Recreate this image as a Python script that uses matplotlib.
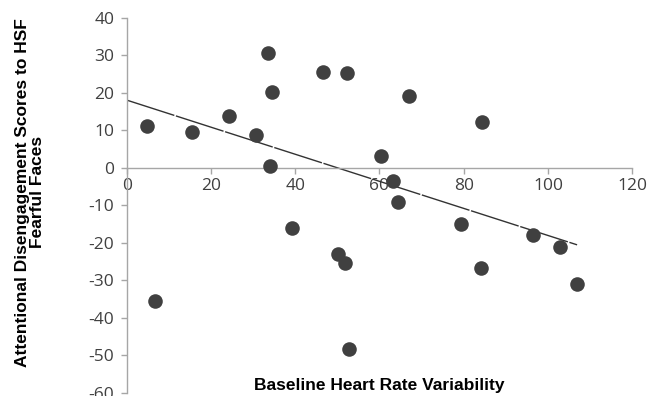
import matplotlib.pyplot as plt
import numpy as np

plt.rcParams['axes.unicode_minus'] = False

# baseline HRV vs disengagement scores
hrv = [4.7, 15.4, 24.2, 30.6, 33.6, 34.6, 34.1, 46.7, 52.4, 60.4, 67.1, 84.4,
       63.3, 64.5, 39.3, 50.2, 51.9, 6.6, 52.8, 79.4, 84.1, 96.4, 102.8, 106.9]
scores = [11.2, 9.6, 13.9, 8.8, 30.7, 20.3, 0.5, 25.6, 25.3, 3.2, 19.2, 12.3,
          -3.5, -9.0, -16.0, -22.9, -25.3, -35.5, -48.3, -14.9, -26.7, -17.9, -21.1, -30.9]
# trendline as drawn in the figure
trend_intercept = 18.1
trend_slope = -0.361
x_ticks = [0, 20, 40, 60, 80, 100, 120]
y_ticks = [-60, -50, -40, -30, -20, -10, 0, 10, 20, 30, 40]

fig = plt.figure(figsize=(6.6, 3.96), dpi=100)
ax = fig.add_axes([0.192, 0.0076, 0.766, 0.947])

ax.scatter(hrv, scores, s=110, color='#404040', zorder=3, linewidths=0)

xs = np.array([0, max(hrv)])
ax.plot(xs, trend_intercept + trend_slope * xs, color='#333333', lw=1.0,
        dashes=(36, 1.2), zorder=2)

ax.set_xlim(0, 120)
ax.set_ylim(-60, 40)
ax.set_xticks(x_ticks)
ax.set_yticks(y_ticks)

ax.spines['top'].set_visible(False)
ax.spines['right'].set_visible(False)
ax.spines['bottom'].set_position(('data', 0))
for s in ['left', 'bottom']:
    ax.spines[s].set_color('#a6a6a6')
    ax.spines[s].set_linewidth(1.0)

ax.tick_params(axis='both', colors='#a6a6a6', length=4, width=1.0,
               labelcolor='#404040', labelsize=12.5)
ax.tick_params(axis='y', pad=5)
ax.tick_params(axis='x', pad=3)
for lab in ax.get_xticklabels() + ax.get_yticklabels():
    lab.set_family('Open Sans')

ax.set_xlabel('Baseline Heart Rate Variability', fontsize=12.5, fontweight='bold',
              family='Liberation Sans', color='black')
ax.xaxis.set_label_coords(0.5, 0.008)
ax.xaxis.label.set_va('baseline')
ax.set_ylabel('Attentional Disengagement Scores to HSF\nFearful Faces', fontsize=12.5,
              fontweight='bold', family='Liberation Sans', color='black',
              linespacing=0.95)
ax.yaxis.set_label_coords(-0.162, 0.535)

fig.savefig('out.png', dpi=100)
